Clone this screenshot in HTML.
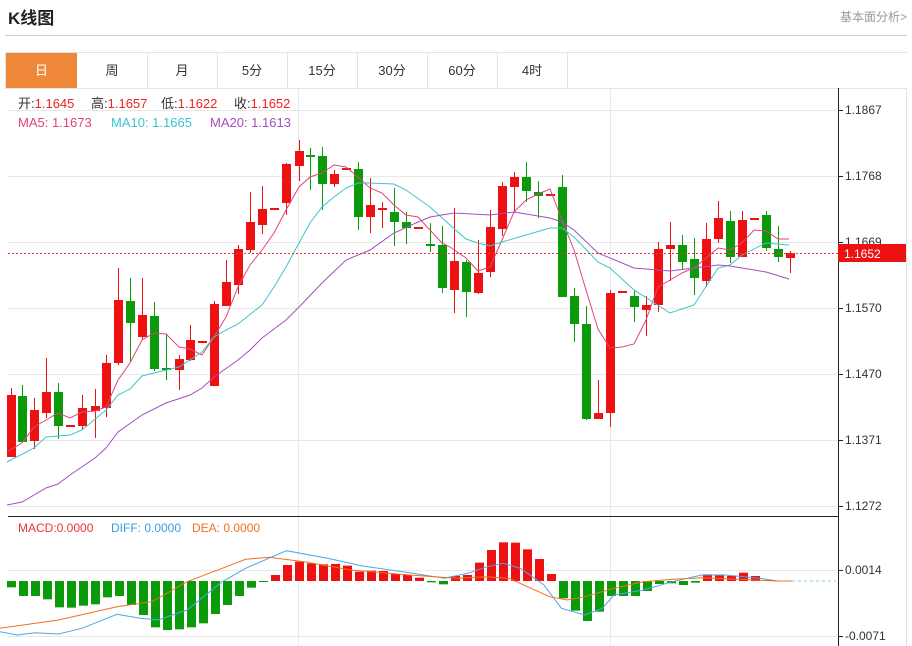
<!DOCTYPE html>
<html><head><meta charset="utf-8">
<style>
body{margin:0;background:#fff;width:912px;height:646px;overflow:hidden;font-family:"Liberation Sans","Noto Sans CJK SC",sans-serif;}
.t{position:absolute;left:8px;top:4px;font-size:17px;font-weight:bold;color:#222;}
.r{position:absolute;right:5px;top:8px;font-size:12px;color:#999;}
.hr{position:absolute;left:5px;width:902px;top:35px;height:1px;background:#ccc;}
.tabs{position:absolute;left:5px;top:52px;width:901px;height:35px;border:1px solid #e3e3e3;border-right:none;}
.tab{position:absolute;top:0;height:35px;width:70px;border-right:1px solid #e3e3e3;text-align:center;line-height:35px;font-size:13px;color:#333;}
</style></head><body>
<div class="t">K线图</div>
<div class="r">基本面分析&gt;</div>
<div class="hr"></div>
<div class="tabs">
<div class="tab" style="left:0;background:#f0883a;color:#fff;width:71px;border-right:none">日</div>
<div class="tab" style="left:71px">周</div>
<div class="tab" style="left:141px">月</div>
<div class="tab" style="left:211px">5分</div>
<div class="tab" style="left:281px">15分</div>
<div class="tab" style="left:351px">30分</div>
<div class="tab" style="left:421px">60分</div>
<div class="tab" style="left:491px">4时</div>
</div>
<svg id="s" width="912" height="646" style="position:absolute;left:0;top:0" font-family="Liberation Sans, Noto Sans CJK SC, sans-serif">
</svg>
<script>
var s=document.getElementById('s'),h='';
function L(x1,y1,x2,y2,c,w,d){h+='<line x1="'+x1+'" y1="'+y1+'" x2="'+x2+'" y2="'+y2+'" stroke="'+c+'" stroke-width="'+(w||1)+'"'+(d?' stroke-dasharray="'+d+'"':'')+'/>';}
function T(x,y,t,c,sz,a){h+='<text x="'+x+'" y="'+y+'" fill="'+c+'" font-size="'+(sz||12)+'"'+(a?' text-anchor="'+a+'"':'')+'>'+t+'</text>';}
[110,176,242,308,374,440,506,570,636].forEach(function(y){L(8,y+.5,838,y+.5,'#e8e8e8');});
[298,610].forEach(function(x){L(x+.5,88,x+.5,646,'#e8e8e8');});
L(906.5,88,906.5,646,'#e3e3e3');
L(8,516.5,838,516.5,'#222');
L(838.5,88,838.5,646,'#222');
var lab=[['1.1867',110],['1.1768',176],['1.1669',242],['1.1570',308],['1.1470',374],['1.1371',440],['1.1272',506],['0.0014',570],['-0.0071',636]];
lab.forEach(function(a){L(838,a[1]+.5,843,a[1]+.5,'#222');T(845,a[1]+4,a[0],'#333',12);});
var R='#ee1111',G='#0a9a0a';
var c=[[11,395,457,388,457,R],[22,396,442,385,442,G],[34,410,441,398,449,R],[46,392,413,358,418,R],[58,392,426,383,439,G],[70,425,427,425,427,R],[82,408,426,395,430,R],[95,406,411,389,438,R],[106,363,408,355,417,R],[118,300,363,268,365,R],[130,301,323,278,362,G],[142,315,337,278,339,R],[154,316,369,302,371,G],[166,368,370,334,380,G],[179,359,370,355,390,R],[190,340,360,325,361,R],[202,341,343,341,343,R],[214,304,386,301,386,R],[226,282,306,260,306,R],[238,249,285,245,294,R],[250,222,250,192,253,R],[262,209,225,186,234,R],[274,208,210,208,210,R],[286,164,203,163,215,R],[299,151,166,140,181,R],[310,155,157,148,190,G],[322,156,184,147,210,G],[334,174,184,170,187,R],[346,168,170,168,170,R],[358,169,217,162,230,G],[370,205,217,178,233,R],[382,208,210,202,228,R],[394,212,222,188,246,G],[406,222,228,212,244,G],[418,227,229,227,229,R],[430,244,246,223,252,G],[442,245,288,226,293,G],[454,261,290,208,313,R],[466,262,292,260,317,G],[478,273,293,240,294,R],[490,227,272,210,277,R],[502,186,229,182,236,R],[514,177,187,172,213,R],[526,177,191,162,202,G],[538,192,196,181,218,G],[550,194,196,194,196,R],[562,187,297,175,297,G],[574,296,324,288,342,G],[586,324,419,306,420,G],[598,413,419,380,419,R],[610,293,413,290,427,R],[622,291,293,291,293,R],[634,296,307,290,322,G],[646,305,310,296,336,R],[658,249,305,242,312,R],[670,245,249,222,281,R],[682,245,262,235,269,G],[694,259,278,238,295,G],[706,239,281,223,287,R],[718,218,239,201,243,R],[730,221,257,211,263,G],[742,220,257,211,257,R],[754,218,220,218,220,R],[766,215,248,211,251,G],[778,249,257,226,262,G],[790,253,258,251,273,R]];
c.forEach(function(k){L(k[0]+.5,k[3],k[0]+.5,k[4],k[5]);h+='<rect x="'+(k[0]-4)+'" y="'+k[1]+'" width="9" height="'+Math.max(2,k[2]-k[1])+'" fill="'+k[5]+'"/>';});
function P(pts,col){h+='<polyline fill="none" stroke="'+col+'" stroke-width="1" points="'+pts.map(function(p){return p.join(',')}).join(' ')+'"/>';}
P([[7,452],[22,443],[34,427],[46,420],[58,413],[70,418],[82,412],[95,411],[106,407],[118,380],[130,363],[142,340],[154,333],[166,334],[179,347],[190,349],[202,355],[214,337],[226,317],[238,287],[250,265],[262,250],[274,233],[286,210],[299,187],[310,177],[322,173],[334,165],[346,167],[358,177],[370,188],[382,193],[394,205],[406,215],[418,217],[430,230],[442,243],[450,247],[466,258],[478,271],[490,267],[502,240],[514,212],[526,200],[538,194],[550,189],[562,220],[574,250],[586,290],[598,329],[610,348],[622,347],[634,344],[646,320],[658,287],[670,280],[682,273],[694,268],[706,258],[718,248],[730,250],[742,243],[754,230],[766,231],[778,239],[789,239]],'#e0457b');
P([[7,462],[34,448],[46,437],[70,435],[82,430],[106,410],[118,395],[130,389],[142,376],[154,373],[179,367],[202,352],[214,337],[226,330],[238,324],[262,305],[274,287],[286,267],[299,243],[310,223],[322,207],[334,197],[346,188],[358,183],[370,183],[394,184],[406,190],[430,207],[450,225],[466,239],[478,243],[490,246],[502,242],[526,235],[550,228],[562,228],[574,237],[598,262],[610,268],[634,290],[670,313],[694,305],[718,268],[730,265],[742,255],[766,243],[789,245]],'#3cc4d0');
P([[7,505],[22,502],[46,488],[58,484],[70,475],[95,458],[106,448],[118,432],[142,415],[166,403],[190,395],[202,388],[214,377],[238,360],[250,350],[262,338],[286,320],[299,307],[322,283],[346,260],[370,250],[394,233],[418,222],[430,217],[454,213],[490,215],[514,212],[550,218],[562,222],[574,230],[598,253],[634,268],[670,271],[694,268],[718,265],[730,266],[766,272],[789,279]],'#a24fc0');
L(8,253.5,838,253.5,'#ee3333',1,'2,2');
h+='<rect x="838" y="244" width="68" height="18" fill="#ee1111"/>';T(844,258,'1.1652','#fff',12);
h+='<text y="108" font-size="13"><tspan x="18" fill="#333">开:</tspan><tspan fill="#e22">1.1645</tspan><tspan x="91" fill="#333">高:</tspan><tspan fill="#e22">1.1657</tspan><tspan x="161" fill="#333">低:</tspan><tspan fill="#e22">1.1622</tspan><tspan x="234" fill="#333">收:</tspan><tspan fill="#e22">1.1652</tspan></text>';
h+='<text y="127" font-size="13"><tspan x="18" fill="#e0457b">MA5: 1.1673</tspan><tspan x="111" fill="#3cc4d0">MA10: 1.1665</tspan><tspan x="210" fill="#a24fc0">MA20: 1.1613</tspan></text>';
h+='<text y="532" font-size="12"><tspan x="18" fill="#e33">MACD:0.0000</tspan><tspan x="111" fill="#3a9ee0">DIFF: 0.0000</tspan><tspan x="192" fill="#f07020">DEA: 0.0000</tspan></text>';
var m=[232,258,258,268,292,293,287,283,262,258,285,315,352,360,358,352,340,312,285,258,233,215,195,165,155,160,163,162,167,185,182,183,192,195,203,217,223,198,195,158,120,97,98,118,147,192,265,302,333,305,258,258,258,243,222,220,225,218,193,195,198,188,198,210];
m.forEach(function(Y,i){var x=11+12*i,y=510+Y/3,z=581;var col=Y>213?G:R;var t=Math.min(y,z),hh=Math.max(1,Math.abs(y-z));h+='<rect x="'+(x-4)+'" y="'+t+'" width="9" height="'+hh+'" fill="'+col+'"/>';});
function Q(a,col){P(a.map(function(p){return [(p[0]/1.71).toFixed(1),(510+p[1]/3).toFixed(1)]}),col);}
Q([[0,365],[30,375],[60,368],[100,372],[140,355],[200,313],[240,325],[270,330],[320,300],[380,215],[420,175],[490,122],[560,145],[620,168],[700,188],[760,205],[800,190],[830,172],[860,160],[890,175],[930,225],[960,295],[1000,315],[1030,295],[1050,255],[1100,240],[1150,215],[1200,195],[1240,195],[1300,205],[1330,213]],'#4aa8e8');
Q([[0,355],[100,330],[200,290],[260,275],[320,215],[380,175],[420,148],[460,142],[520,155],[600,180],[700,195],[780,205],[830,200],[870,205],[940,260],[970,270],[1000,260],[1050,235],[1100,215],[1150,208],[1200,203],[1260,208],[1330,213],[1355,213]],'#f07020');
L(792,581,836,581,'#7fd0e0',1,'3,3');
s.innerHTML=h;
</script>
</body></html>
